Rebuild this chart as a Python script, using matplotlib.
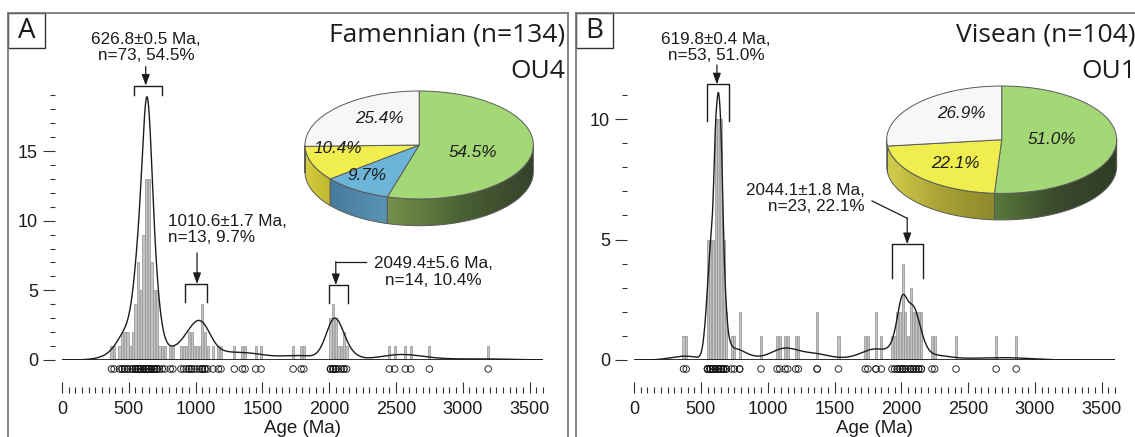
import numpy as np
import matplotlib
matplotlib.use("Agg")
import matplotlib.pyplot as plt
from matplotlib import font_manager
from matplotlib.colors import LinearSegmentedColormap
from matplotlib.patches import Polygon, Rectangle
from matplotlib.ticker import MultipleLocator
from matplotlib.transforms import Affine2D, offset_copy

# ---- values ----
# panel A, Famennian: 20 Ma bins (bin centre in Ma) and grain counts
bins_a = [370, 390, 430, 450, 470, 490, 510, 530, 550, 570, 590, 610, 630, 650,
          670, 690, 710, 730, 750, 770, 810, 830,
          890, 910, 930, 950, 970, 990, 1010, 1030, 1050, 1070, 1090,
          1130, 1170, 1190, 1290, 1350, 1370, 1450, 1490, 1730, 1790, 1810,
          2010, 2030, 2050, 2070, 2090, 2110, 2130,
          2450, 2490, 2570, 2610, 2750, 3190]
counts_a = [1, 1, 1, 2, 2, 2, 1, 2, 4, 7, 5, 9, 13, 13,
            7, 5, 5, 1, 1, 1, 1, 1,
            1, 1, 1, 2, 2, 1, 1, 1, 4, 2, 1,
            1, 1, 1, 1, 1, 1, 1, 1, 1, 1, 1,
            3, 4, 3, 1, 1, 2, 1,
            1, 1, 1, 1, 1, 1]

# panel B, Visean
bins_b = [370, 390, 550, 570, 590, 610, 630, 650, 670, 690, 730, 750, 790,
          950, 1070, 1090, 1130, 1150, 1210, 1230, 1370, 1530,
          1730, 1750, 1810, 1850,
          1930, 1950, 1970, 1990, 2010, 2030, 2050, 2070, 2090, 2110, 2130, 2150,
          2230, 2250, 2410, 2710, 2860]
counts_b = [1, 1, 5, 5, 5, 10, 10, 10, 5, 2, 1, 1, 2,
            1, 1, 1, 1, 1, 1, 1, 2, 1,
            1, 1, 2, 1,
            1, 1, 2, 2, 4, 2, 1, 3, 2, 2, 2, 2,
            1, 1, 1, 1, 1]

kde_peak_a = 18.9   # height of the KDE maximum
kde_peak_b = 11.1

peaks_a = [626.8, 1010.6, 2049.4]
peak_lo_a = [537, 924, 1999]
peak_hi_a = [745, 1082, 2144]
peak_text_a = ["626.8\u00b10.5 Ma,\nn=73, 54.5%",
               "1010.6\u00b11.7 Ma,\nn=13, 9.7%",
               "2049.4\u00b15.6 Ma,\nn=14, 10.4%"]

peaks_b = [619.8, 2044.1]
peak_lo_b = [546, 1930]
peak_hi_b = [708, 2166]
peak_text_b = ["619.8\u00b10.4 Ma,\nn=53, 51.0%",
               "2044.1\u00b11.8 Ma,\nn=23, 22.1%"]

pie_a = [54.5, 9.7, 10.4, 25.4]
pie_b = [51.0, 22.1, 26.9]

# ---- figure / layout ----
W, H = 1135, 437
fig = plt.figure(figsize=(W / 100, H / 100), dpi=100)
PIX = Affine2D().scale(1 / W, -1 / H).translate(0, 1) + fig.transFigure  # pixel coords, top-left origin
PX_PER_MA = 0.1336
BASE_Y = 360
AX_TOP = 81


def font_ok(name):
    try:
        font_manager.findfont(font_manager.FontProperties(family=name), fallback_to_default=False)
        return True
    except ValueError:
        return False


if font_ok("Liberation Sans Narrow"):
    NARROW, ANN_SIZE, PCT_SIZE = "Liberation Sans Narrow", 14.5, 14
else:
    NARROW, ANN_SIZE, PCT_SIZE = "Liberation Sans", 12.3, 12.3
SANS = "Liberation Sans"
TITLE = "Open Sans"
INK = "#1c1c1c"
FRAME = "#707070"


def px_rect(x0, y0, x1, y1):
    return [x0 / W, 1 - y1 / H, (x1 - x0) / W, (y1 - y0) / H]


def kde(ages, grid, h0, alpha=0.5):
    # adaptive gaussian KDE (pilot density sets local bandwidth)
    ages = np.asarray(ages, float)
    pilot = np.exp(-0.5 * ((ages[:, None] - ages[None, :]) / h0) ** 2).sum(1)
    g = np.exp(np.mean(np.log(pilot)))
    h = h0 * (g / pilot) ** alpha
    return (np.exp(-0.5 * ((grid[:, None] - ages[None, :]) / h) ** 2) / h).sum(1)


def frame(x0, x1, letter):
    axf = fig.add_axes(px_rect(x0, 12.7, x1, 445))
    axf.set_xticks([])
    axf.set_yticks([])
    axf.patch.set_alpha(0)
    for s in axf.spines.values():
        s.set_color(FRAME)
        s.set_linewidth(1.2)
    axf.add_patch(Rectangle((x0, 12.7), 36.5, 35.6, transform=PIX, fill=False,
                            edgecolor="#333333", lw=1.0, clip_on=False))
    fig.text(x0 + 18.3, 31, letter, transform=PIX, ha="center", va="center",
             fontsize=20, family=TITLE, color=INK)


def panel(x0, unit, bins, counts, peak_h, h0, alpha, ymajor, yminor_top):
    ax = fig.add_axes(px_rect(x0, AX_TOP, x0 + 3600 * PX_PER_MA, BASE_Y))
    ax.patch.set_alpha(0)
    ages = np.repeat(bins, counts)
    ax.bar(bins, counts, width=16, color="#c4c4c4", edgecolor="#8e8e8e", lw=0.5, zorder=2)
    grid = np.linspace(0, 3600, 1801)
    dens = kde(ages, grid, h0, alpha)
    ax.plot(grid, dens * peak_h / dens.max(), color=INK, lw=1.0, zorder=3)
    ax.axhline(0, color=INK, lw=1.3, zorder=3)
    circ = offset_copy(ax.get_xaxis_transform(), fig=fig, y=-9, units="dots")
    ax.scatter(ages, np.zeros(len(ages)), s=22, facecolors="none", edgecolors=INK,
               linewidths=0.65, transform=circ, clip_on=False, zorder=3)

    ax.set_xlim(0, 3600)
    ax.set_ylim(0, (BASE_Y - AX_TOP) / unit)
    ax.set_xticks(range(0, 3501, 500))
    ax.xaxis.set_minor_locator(MultipleLocator(50))
    ax.set_yticks(ymajor)
    ax.set_yticks(range(0, yminor_top + 1), minor=True)
    for s in ax.spines.values():
        s.set_visible(False)
    ax.spines["left"].set_position(("outward", 7 * 0.72))
    ax.spines["bottom"].set_position(("outward", 32.6 * 0.72))
    ax.tick_params(axis="x", which="both", direction="in", color="#333333", width=0.8,
                   labelsize=13, labelcolor=INK, pad=6)
    ax.tick_params(axis="x", which="major", length=8)
    ax.tick_params(axis="x", which="minor", length=4.3)
    ax.tick_params(axis="y", which="both", direction="out", color="#333333", width=0.8,
                   labelsize=13, labelcolor=INK, pad=3.6)
    ax.tick_params(axis="y", which="major", length=8.6)
    ax.tick_params(axis="y", which="minor", length=3.6)
    for lab in ax.get_xticklabels() + ax.get_yticklabels():
        lab.set_family(SANS)
    ax.set_xlabel("Age (Ma)", fontsize=13.5, family=SANS, color=INK, labelpad=1.5)
    return ax


def bracket(ax, lo, hi, top, bot):
    ax.plot([lo, lo, hi, hi], [bot, top, top, bot], color=INK, lw=1.0, zorder=4, clip_on=False)


def leader(ax, path):
    xs, ys = zip(*path)
    if len(path) > 2:
        ax.plot(xs[:-1], ys[:-1], color=INK, lw=0.9, clip_on=False, zorder=4)
    ax.annotate("", xy=path[-1], xytext=path[-2],
                arrowprops=dict(arrowstyle="-|>,head_length=0.55,head_width=0.2", color=INK,
                                lw=0.9, shrinkA=0, shrinkB=0, mutation_scale=12),
                annotation_clip=False, zorder=4)


def ann_text(x, y, s, ha, va):
    fig.text(x, y, s, transform=PIX, ha=ha, va=va, multialignment=ha,
             fontsize=ANN_SIZE, family=NARROW, color=INK, linespacing=1.1)


def pie3d(cx, cy, a, b, depth, values, colors, side_colors, label_pos):
    axp = fig.add_axes(px_rect(cx - a, cy - b, cx + a, cy + b + depth))
    d = depth / b
    wedges, _ = axp.pie(values, colors=colors, startangle=90, counterclock=False,
                        wedgeprops=dict(edgecolor="#5a5a5a", linewidth=0.7, zorder=3))
    for w in wedges:
        w.set_clip_on(False)
    frac = np.asarray(values) / np.sum(values)
    edges = 90 - 360 * np.concatenate([[0], np.cumsum(frac)])
    for k in range(len(values)):
        lo, hi = max(edges[k + 1], -180), min(edges[k], 0)
        if hi <= lo:
            continue
        t = np.radians(np.linspace(lo, hi, 120))
        xs, ys = np.cos(t), np.sin(t)
        poly = Polygon(np.column_stack([np.r_[xs, xs[::-1]], np.r_[ys, ys[::-1] - d]]),
                       closed=True, facecolor="none", edgecolor="#5a5a5a", lw=0.7,
                       zorder=2, clip_on=False)
        axp.add_patch(poly)
        cmap = LinearSegmentedColormap.from_list("side%d" % k, side_colors[k])
        im = axp.imshow(np.linspace(0, 1, 256)[None, :], cmap=cmap, aspect="auto",
                        extent=(xs.min(), xs.max(), -1 - d, 0), zorder=1,
                        interpolation="bilinear")
        im.set_clip_path(poly)
    for k, (lx, ly) in enumerate(label_pos):
        axp.text(lx, ly, "%.1f%%" % values[k], ha="center", va="center", style="italic",
                 fontsize=PCT_SIZE, family=NARROW, color=INK, zorder=5)
    axp.set_aspect("auto")
    axp.set_xlim(-1, 1)
    axp.set_ylim(-1 - d, 1)
    axp.set_axis_off()


GREEN, BLUE, YELLOW, WHITE = "#a4d877", "#6cb5d8", "#f0ee4e", "#f7f7f7"

# ---------------- panel A ----------------
frame(8, 568, "A")
ax_a = panel(62, 13.93, bins_a, counts_a, kde_peak_a, 48, 0.5, [0, 5, 10, 15], 19)
bracket(ax_a, peak_lo_a[0], peak_hi_a[0], 19.7, 19.0)
bracket(ax_a, peak_lo_a[1], peak_hi_a[1], 5.46, 4.19)
bracket(ax_a, peak_lo_a[2], peak_hi_a[2], 5.38, 4.07)
leader(ax_a, [(peaks_a[0], 21.07), (peaks_a[0], 19.7)])
leader(ax_a, [(peaks_a[1], 7.68), (peaks_a[1], 5.46)])
leader(ax_a, [(2272, 7.06), (peaks_a[2], 7.06), (peaks_a[2], 5.38)])
ann_text(146, 63, peak_text_a[0], "center", "bottom")
ann_text(168, 245, peak_text_a[1], "left", "bottom")
ann_text(433, 272, peak_text_a[2], "center", "center")
fig.text(565, 35, "Famennian (n=134)", transform=PIX, ha="right", va="center",
         fontsize=19, family=TITLE, color=INK)
fig.text(565, 72, "OU4", transform=PIX, ha="right", va="center",
         fontsize=19, family=TITLE, color=INK)
pie3d(419.2, 145, 114.2, 54, 26.7, pie_a, [GREEN, BLUE, YELLOW, WHITE],
      [["#76924b", "#4b6134", "#34422a"], ["#46799a", "#5b95b6"],
       ["#d6ce3c", "#bdb530"], ["#dedede", "#dedede"]],
      [(0.47, -0.13), (-0.455, -0.57), (-0.716, -0.07), (-0.35, 0.49)])

# ---------------- panel B ----------------
frame(576, 1145, "B")
ax_b = panel(634.1, 24.1, bins_b, counts_b, kde_peak_b, 30, 0.75, [0, 5, 10], 11)
bracket(ax_b, peak_lo_b[0], peak_hi_b[0], 11.44, 9.93)
bracket(ax_b, peak_lo_b[1], peak_hi_b[1], 4.81, 3.39)
leader(ax_b, [(peaks_b[0], 12.24), (peaks_b[0], 11.44)])
leader(ax_b, [(1781, 6.6), (peaks_b[1], 5.88), (peaks_b[1], 4.81)])
ann_text(716, 63, peak_text_b[0], "center", "bottom")
ann_text(865, 198.5, peak_text_b[1], "right", "center")
fig.text(1136, 35, "Visean (n=104)", transform=PIX, ha="right", va="center",
         fontsize=19, family=TITLE, color=INK)
fig.text(1136, 72, "OU1", transform=PIX, ha="right", va="center",
         fontsize=19, family=TITLE, color=INK)
pie3d(1001.7, 139.7, 115, 53.7, 26.5, pie_b, [GREEN, YELLOW, WHITE],
      [["#5a7a3c", "#3a4a2c", "#2f3c25"], ["#d4cd4b", "#a9a236", "#8d882c"],
       ["#dedede", "#dedede"]],
      [(0.44, 0.0), (-0.40, -0.445), (-0.35, 0.49)])

fig.savefig("out.png", dpi=100)
